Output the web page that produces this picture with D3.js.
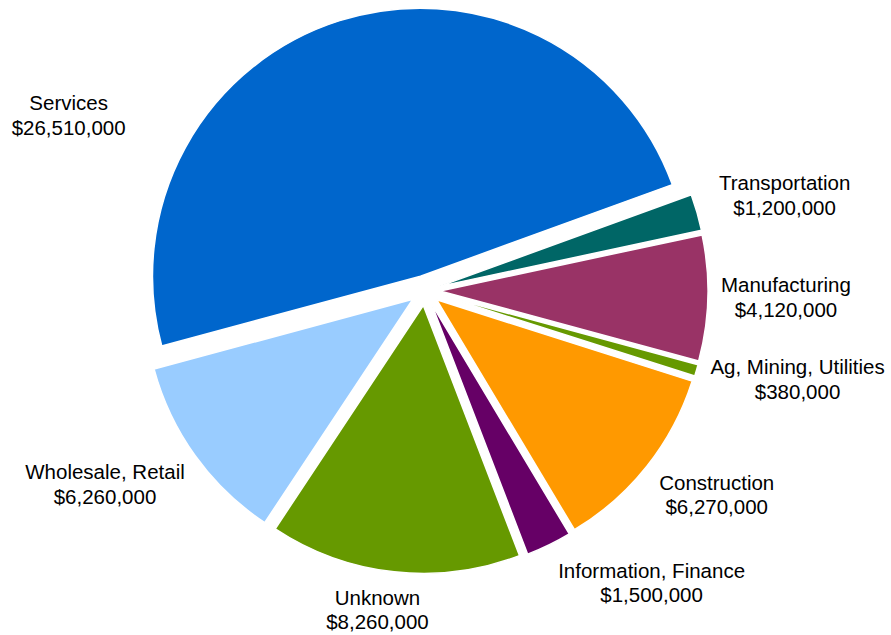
<!DOCTYPE html>
<html>
<head>
<meta charset="utf-8">
<script src="https://cdn.jsdelivr.net/npm/d3@7/dist/d3.min.js"></script>
<style>
    body { margin: 0; background: #ffffff; }
    svg { display: block; }
    .lbl { font-family: "Liberation Sans", Arial, sans-serif; font-size: 20.5px; fill: #000000; }
</style>
</head>
<body>
<div id="chart"><svg></svg></div>
<script>

/**
 * Data
 */
var categories = ['Services', 'Transportation', 'Manufacturing', 'Ag, Mining, Utilities',
                  'Construction', 'Information, Finance', 'Unknown', 'Wholesale, Retail'];
var amounts = [26510000, 1200000, 4120000, 380000, 6270000, 1500000, 8260000, 6260000];

// slice colours, same order as categories
var sliceColors = ['#0066cc', '#006666', '#993366', '#669900', '#ff9900', '#660066', '#669900', '#99ccff'];

// label layout: angle nudge from the slice middle (degrees) and distance from the pie centre
var labelNudge  = [-46.3, 1.2, -0.5, -3.0, -3.4, -11.8, 2.2, 4.6];
var labelRadius = [397, 372, 361, 383, 356, 370, 323, 374];

/**
 * Constructor
 */
function PieView(svgid, width, height){
    this.svgId = svgid;
    this.svgWidth  = width;
    this.svgHeight = height;
    this.cx = 425;
    this.cy = 290.5;
    this.radius = 268;
    this.explode = 15;
    this.startDeg = -105.1;
}

/**
 * Initialization
 */
PieView.prototype.init = function(){
    this.svg = d3.select(this.svgId).select('svg')
        .attr('width', this.svgWidth)
        .attr('height', this.svgHeight);

    this.group = this.svg.append('g')
        .attr('transform', 'translate(' + this.cx + ',' + this.cy + ')');
};

/**
 * Draw slices and labels
 */
PieView.prototype.update = function(){
    var self = this;
    var start = this.startDeg * Math.PI / 180;
    var rad = Math.PI / 180;

    var rows = categories.map(function (c, i) {
        return { name: c, value: amounts[i], color: sliceColors[i], i: i };
    });

    var pie = d3.pie()
        .sort(null)
        .value(function (d) { return d.value; })
        .startAngle(start)
        .endAngle(start + 2 * Math.PI);

    var arc = d3.arc()
        .innerRadius(0)
        .outerRadius(this.radius);

    var slices = pie(rows);
    var mid = function (d) { return (d.startAngle + d.endAngle) / 2; };

    this.group.selectAll('path.slice').data(slices).enter()
        .append('path')
        .attr('class', 'slice')
        .attr('d', arc)
        .attr('fill', function (d) { return d.data.color; })
        .attr('stroke', '#ffffff')
        .attr('stroke-width', 1.5)
        .attr('stroke-linejoin', 'round')
        .attr('transform', function (d) {
            var p = d3.pointRadial(mid(d), self.explode);
            return 'translate(' + p[0] + ',' + p[1] + ')';
        });

    var money = d3.format('$,');

    var labels = this.group.selectAll('text.lbl').data(slices).enter()
        .append('text')
        .attr('class', 'lbl')
        .attr('text-anchor', 'middle')
        .attr('transform', function (d) {
            var i = d.data.i;
            var p = d3.pointRadial(mid(d) + labelNudge[i] * rad, labelRadius[i]);
            return 'translate(' + p[0] + ',' + p[1] + ')';
        });

    labels.append('tspan')
        .attr('x', 0)
        .attr('y', -5)
        .text(function (d) { return d.data.name; });

    labels.append('tspan')
        .attr('x', 0)
        .attr('y', 19.5)
        .text(function (d) { return money(d.data.value); });
};

var view = new PieView('#chart', 891, 635);
view.init();
view.update();

</script>
</body>
</html>
